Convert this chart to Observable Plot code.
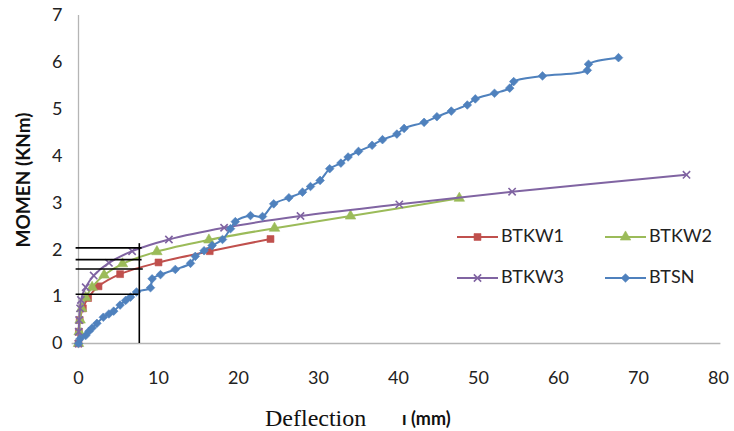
<!DOCTYPE html>
<html><head><meta charset="utf-8">
<script src="https://cdn.jsdelivr.net/npm/d3@7"></script>
<script src="https://cdn.jsdelivr.net/npm/@observablehq/plot@0.6"></script>
<style>
body{margin:0;background:#fff;}
#chart{width:734px;height:431px;}
</style></head><body><div id="chart"></div>
<script>
// ---- data ----
const seriesNames = ["BTKW1", "BTKW2", "BTKW3", "BTSN"];
const seriesColors = ["#c0504d", "#9bbb59", "#8064a2", "#4f81bd"];
const seriesSymbols = ["square", "triangle", "times", "diamond2"];

const btkw1X = [0, 0.05, 0.15, 0.55, 1.2, 2.5, 5.2, 10.0, 16.4, 24.0];
const btkw1Y = [0, 0.25, 0.5, 0.75, 0.97, 1.22, 1.48, 1.73, 1.97, 2.23];

const btkw2X = [0, 0.08, 0.2, 0.4, 0.9, 1.7, 3.2, 5.5, 9.8, 16.3, 24.5, 34.0, 47.6];
const btkw2Y = [0, 0.25, 0.5, 0.75, 0.98, 1.2, 1.46, 1.7, 1.96, 2.21, 2.46, 2.72, 3.1];

const btkw3X = [0, 0.03, 0.08, 0.2, 0.3, 0.9, 1.9, 3.8, 6.7, 11.3, 18.2, 27.75, 40.1, 54.2, 76.0];
const btkw3Y = [0, 0.25, 0.5, 0.75, 0.93, 1.2, 1.45, 1.72, 1.97, 2.22, 2.47, 2.72, 2.97, 3.24, 3.6];

const btsnX = [0, 0.2, 0.9, 1.3, 1.7, 2.3, 3.1, 3.8, 4.4, 5.2, 5.9, 6.5, 7.25, 9.0, 9.2, 10.25, 12.1, 14.0, 14.6, 15.7, 16.7, 18.0, 19.0, 19.6, 21.5, 23.0, 24.4, 26.3, 28.0, 29.0, 30.2, 31.4, 32.8, 33.7, 35.0, 36.7, 38.0, 39.8, 40.7, 43.2, 44.8, 46.6, 48.6, 49.6, 52.0, 53.9, 54.4, 58.0, 63.6, 63.75, 67.5];
const btsnY = [0, 0.1, 0.17, 0.26, 0.33, 0.43, 0.56, 0.63, 0.69, 0.82, 0.92, 0.99, 1.1, 1.19, 1.38, 1.47, 1.58, 1.71, 1.86, 1.98, 2.09, 2.22, 2.45, 2.6, 2.73, 2.71, 2.98, 3.11, 3.23, 3.35, 3.48, 3.73, 3.85, 3.98, 4.1, 4.23, 4.35, 4.47, 4.59, 4.72, 4.84, 4.96, 5.09, 5.22, 5.34, 5.45, 5.59, 5.71, 5.83, 5.96, 6.1];

const xTicks = [0, 10, 20, 30, 40, 50, 60, 70, 80];
const yTicks = [0, 1, 2, 3, 4, 5, 6, 7];

// hand-drawn black reference lines
const refHY = [2.04, 1.79, 1.59, 1.05];
const refHX1 = [-0.3, -0.3, -0.3, -0.3];
const refHX2 = [7.95, 7.95, 8.1, 7.55];
const refVX = [7.6];
const refVTop = [2.13];

const xLabelMain = "Deflection";
const xLabelUnit = "ı (mm)";
const yLabel = "MOMEN (KNm)";

// ---- build tables ----
const allX = [btkw1X, btkw2X, btkw3X, btsnX];
const allY = [btkw1Y, btkw2Y, btkw3Y, btsnY];
const series = seriesNames.map((name, i) => allX[i].map((x, j) => ({x, y: allY[i][j], name})));
const refH = refHY.map((y, i) => ({y, x1: refHX1[i], x2: refHX2[i]}));
const refV = refVX.map((x, i) => ({x, y1: 0, y2: refVTop[i]}));

const marks = [
  Plot.ruleY([0], {x1: -0.8, x2: 80.3, stroke: "#b5b5b5", strokeWidth: 1.3}),
  Plot.ruleX([0], {stroke: "#b5b5b5", strokeWidth: 1.3}),
  Plot.axisX({ticks: xTicks, tickSize: 0, tickPadding: 28, label: null, tickFormat: d => d}),
  Plot.axisY({ticks: yTicks, tickSize: 0, tickPadding: 16, label: null, tickFormat: d => d})
];
series.forEach((data, i) => {
  marks.push(Plot.line(data, {x: "x", y: "y", stroke: seriesColors[i], strokeWidth: 2, curve: "catmull-rom"}));
  const stroked = seriesSymbols[i] === "times";
  marks.push(Plot.dot(data, {
    x: "x", y: "y", symbol: seriesSymbols[i], r: stroked ? 3.4 : 3.9,
    fill: stroked ? "none" : seriesColors[i],
    stroke: seriesColors[i], strokeWidth: stroked ? 1.6 : 0.6
  }));
});
marks.push(Plot.ruleY(refH, {y: "y", x1: "x1", x2: "x2", stroke: "#000", strokeWidth: 1.6}));
marks.push(Plot.ruleX(refV, {x: "x", y1: "y1", y2: "y2", stroke: "#000", strokeWidth: 1.6}));

const plot = Plot.plot({
  width: 734, height: 431,
  marginLeft: 78, marginRight: 16, marginTop: 15, marginBottom: 88,
  x: {domain: [0, 80]},
  y: {domain: [0, 7]},
  style: {fontFamily: "Lato, sans-serif", fontSize: "18px", color: "#222", background: "#fff", overflow: "visible"},
  marks
});
document.getElementById("chart").appendChild(plot);

// ---- labels and legend ----
const svg = d3.select(plot);
svg.append("text")
  .attr("transform", "translate(25,180) rotate(-90)")
  .attr("text-anchor", "middle").attr("dominant-baseline", "middle")
  .style("font-family", "Lato, sans-serif").style("font-weight", "bold").style("font-size", "19px")
  .attr("fill", "#111").text(yLabel);
svg.append("text").attr("x", 265).attr("y", 426).attr("text-anchor", "start")
  .style("font-family", "'Liberation Serif', serif").style("font-size", "24px")
  .attr("fill", "#111").text(xLabelMain);
svg.append("text").attr("x", 402).attr("y", 425).attr("text-anchor", "start")
  .style("font-family", "Lato, sans-serif").style("font-weight", "bold").style("font-size", "18px")
  .attr("fill", "#111").text(xLabelUnit);

const legX = [457, 605], legY = [237, 278];
const symMap = {square: d3.symbolSquare, triangle: d3.symbolTriangle, times: d3.symbolTimes, diamond2: d3.symbolDiamond2};
seriesNames.forEach((name, i) => {
  const x0 = legX[i % 2], y0 = legY[Math.floor(i / 2)];
  const g = svg.append("g");
  g.append("line").attr("x1", x0).attr("x2", x0 + 41).attr("y1", y0).attr("y2", y0)
    .attr("stroke", seriesColors[i]).attr("stroke-width", 2);
  const stroked = seriesSymbols[i] === "times";
  const rr = stroked ? 3.4 : 3.9;
  g.append("path").attr("transform", `translate(${x0 + 20.5},${y0})`)
    .attr("d", d3.symbol(symMap[seriesSymbols[i]], Math.PI * rr * rr)())
    .attr("fill", stroked ? "none" : seriesColors[i]).attr("stroke", seriesColors[i])
    .attr("stroke-width", stroked ? 1.6 : 0.6);
  g.append("text").attr("x", x0 + 44).attr("y", y0).attr("dominant-baseline", "middle")
    .attr("text-anchor", "start")
    .style("font-family", "Lato, sans-serif").style("font-size", "18px")
    .attr("fill", "#222").text(name);
});
</script></body></html>
